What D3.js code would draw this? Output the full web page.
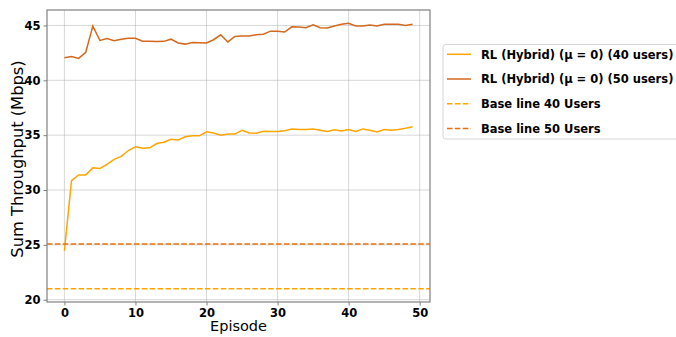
<!DOCTYPE html>
<html>
<head>
<meta charset="utf-8">
<script src="https://cdn.jsdelivr.net/npm/d3@7"></script>
<style>
  body { margin: 0; background: #fff; }
  svg { font-family: "DejaVu Sans", sans-serif; }
</style>
</head>
<body>
<svg id="chart" width="676" height="337"></svg>
<script>
// values
var episodes = d3.range(50);
var rl40 = [24.45, 30.85, 31.37, 31.37, 32.02, 31.97, 32.33, 32.8, 33.07, 33.6,
            33.94, 33.8, 33.85, 34.24, 34.35, 34.62, 34.56, 34.85, 34.94, 34.94,
            35.3, 35.2, 35.0, 35.1, 35.1, 35.45, 35.2, 35.18, 35.36, 35.33,
            35.33, 35.4, 35.55, 35.52, 35.51, 35.55, 35.45, 35.33, 35.5, 35.38,
            35.52, 35.33, 35.57, 35.45, 35.3, 35.52, 35.45, 35.52, 35.63, 35.76];
var rl50 = [42.05, 42.17, 42.0, 42.56, 44.94, 43.63, 43.8, 43.6, 43.75, 43.83,
            43.83, 43.57, 43.57, 43.53, 43.55, 43.75, 43.4, 43.3, 43.45, 43.43,
            43.4, 43.7, 44.15, 43.5, 44.0, 44.05, 44.05, 44.15, 44.2, 44.48,
            44.48, 44.4, 44.88, 44.85, 44.8, 45.05, 44.8, 44.77, 44.95, 45.12,
            45.2, 44.96, 44.95, 45.05, 44.95, 45.1, 45.12, 45.1, 45.0, 45.12];
var base40 = 21.0;
var base50 = 25.08;
var xTicks = [0, 10, 20, 30, 40, 50];
var yTicks = [20, 25, 30, 35, 40, 45];
var labels = ["RL (Hybrid) (\u03bc = 0) (40 users)", "RL (Hybrid) (\u03bc = 0) (50 users)",
              "Base line 40 Users", "Base line 50 Users"];
var colors = ["#ffa500", "#d2691e", "#ffa500", "#e8700a"];

// plot box (don't name these "top" - clashes with window.top)
var pl = 47, pr = 430, pt = 10, pb = 302;
var svg = d3.select("#chart");

var x = d3.scaleLinear().domain([-2.45, 51.45]).range([pl, pr]);
var y = d3.scaleLinear().domain([19.79, 46.41]).range([pb, pt]);

// grid
svg.append("g").selectAll("line").data(xTicks).enter().append("line")
  .attr("x1", d => x(d)).attr("x2", d => x(d))
  .attr("y1", pt).attr("y2", pb)
  .attr("stroke", "#b0b0b0").attr("stroke-opacity", 0.5).attr("stroke-width", 1);
svg.append("g").selectAll("line").data(yTicks).enter().append("line")
  .attr("x1", pl).attr("x2", pr)
  .attr("y1", d => y(d)).attr("y2", d => y(d))
  .attr("stroke", "#b0b0b0").attr("stroke-opacity", 0.5).attr("stroke-width", 1);

// axes
var xAxis = svg.append("g").attr("transform", "translate(0," + pb + ")")
  .call(d3.axisBottom(x).tickValues(xTicks).tickSize(3.5).tickPadding(3));
var yAxis = svg.append("g").attr("transform", "translate(" + pl + ",0)")
  .call(d3.axisLeft(y).tickValues(yTicks).tickSize(3.5).tickPadding(3));
[xAxis, yAxis].forEach(function(a) {
  a.select(".domain").remove();
  a.selectAll("text").attr("font-family", "DejaVu Sans").attr("font-weight", "bold")
    .attr("font-size", 11.5).attr("fill", "#000");
  a.selectAll("line").attr("stroke", "#808080");
});

// lines
var line = d3.line().x((d, i) => x(episodes[i])).y(d => y(d));
svg.append("path").attr("d", line(rl40)).attr("fill", "none")
  .attr("stroke", colors[0]).attr("stroke-width", 1.5);
svg.append("path").attr("d", line(rl50)).attr("fill", "none")
  .attr("stroke", colors[1]).attr("stroke-width", 1.5);
svg.append("line").attr("x1", pl).attr("x2", pr)
  .attr("y1", y(base40)).attr("y2", y(base40))
  .attr("stroke", colors[2]).attr("stroke-width", 1.5).attr("stroke-dasharray", "5.5,2.4");
svg.append("line").attr("x1", pl).attr("x2", pr)
  .attr("y1", y(base50)).attr("y2", y(base50))
  .attr("stroke", colors[3]).attr("stroke-width", 1.5).attr("stroke-dasharray", "5.5,2.4");

// frame
svg.append("rect").attr("x", pl).attr("y", pt)
  .attr("width", pr - pl).attr("height", pb - pt)
  .attr("fill", "none").attr("stroke", "#808080").attr("stroke-width", 1.2);

// axis labels
svg.append("text").attr("x", (pl + pr) / 2).attr("y", 331)
  .attr("text-anchor", "middle").attr("font-size", 14.5).text("Episode");
svg.append("text").attr("transform", "translate(22.5,159) rotate(-90)")
  .attr("text-anchor", "middle").attr("font-size", 16.3).text("Sum Throughput (Mbps)");

// legend
var lg = svg.append("g");
lg.append("rect").attr("x", 443).attr("y", 44.5).attr("width", 260).attr("height", 94.5)
  .attr("rx", 3).attr("fill", "#fff").attr("fill-opacity", 0.8)
  .attr("stroke", "#d6d6d6").attr("stroke-width", 1);
labels.forEach(function(t, i) {
  var yy = 54.3 + i * 24.7;
  lg.append("line").attr("x1", 447).attr("x2", 471).attr("y1", yy).attr("y2", yy)
    .attr("stroke", colors[i]).attr("stroke-width", 1.5)
    .attr("stroke-dasharray", i > 1 ? "5.5,2.4" : null);
  lg.append("text").attr("x", 481).attr("y", yy + 4.2).attr("font-size", 11.5)
    .attr("font-weight", "bold").text(t);
});
</script>
</body>
</html>
